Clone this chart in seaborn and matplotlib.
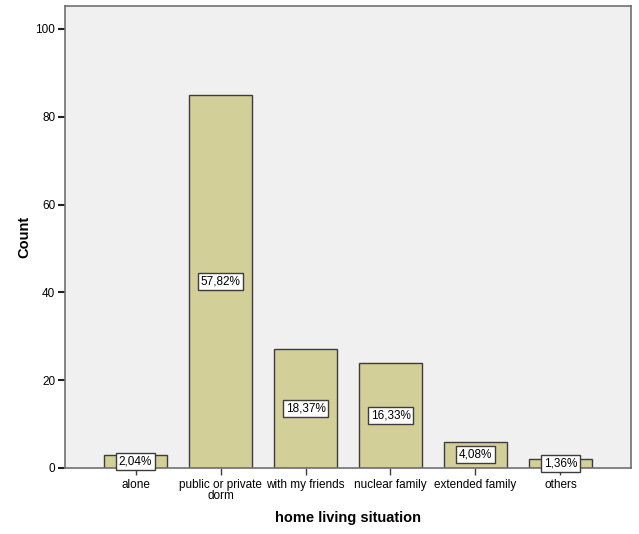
import matplotlib
matplotlib.use("Agg")
import matplotlib.pyplot as plt
import seaborn as sns
import pandas as pd

categories = ["alone", "public or private\ndorm", "with my friends",
              "nuclear family", "extended family", "others"]
counts = [3, 85, 27, 24, 6, 2]
percent_labels = ["2,04%", "57,82%", "18,37%", "16,33%", "4,08%", "1,36%"]
y_ticks = [0, 20, 40, 60, 80, 100]

sns.set_style("white")
plt.rcParams["font.family"] = ["Liberation Sans", "DejaVu Sans"]
plt.rcParams["text.color"] = "black"
plt.rcParams["axes.labelcolor"] = "black"
plt.rcParams["xtick.labelcolor"] = "black"
plt.rcParams["ytick.labelcolor"] = "black"

df = pd.DataFrame({"situation": categories, "count": counts})

fig = plt.figure(figsize=(6.39, 5.34), dpi=100)
ax = fig.add_axes([65 / 639, 1 - 468 / 534, 566 / 639, 462 / 534])
ax.set_facecolor("#f0f0f0")

sns.barplot(data=df, x="situation", y="count", color="#d3cf99",
            saturation=1, width=0.74, edgecolor="#3c3c3c", linewidth=1.0, ax=ax)

for i, (c, lab) in enumerate(zip(counts, percent_labels)):
    ax.text(i, c / 2, lab, ha="center", va="center", fontsize=8.5,
            bbox=dict(boxstyle="square,pad=0.2", facecolor="white",
                      edgecolor="#3c3c3c", linewidth=1.0), zorder=5)

ax.set_xlim(-0.83, 5.83)
ax.set_ylim(0, 105.2)
ax.set_yticks(y_ticks)
ax.set_yticklabels([str(t) for t in y_ticks], fontsize=8.5)
ax.tick_params(axis="x", labelsize=8.5, length=5, width=1, color="#3c3c3c",
               direction="out", bottom=True, pad=3)
ax.tick_params(axis="y", length=5, width=1.5, color="#222222",
               direction="out", left=True, pad=2)
for t in ax.get_xticklabels():
    t.set_linespacing(0.85)

for s in ax.spines.values():
    s.set_color("#707070")
    s.set_linewidth(1.2)

ax.set_xlabel("home living situation", fontsize=10.5, fontweight="bold", labelpad=7)
ax.set_ylabel("Count", fontsize=10.5, fontweight="bold", labelpad=3)

fig.savefig("out.png", dpi=100)
